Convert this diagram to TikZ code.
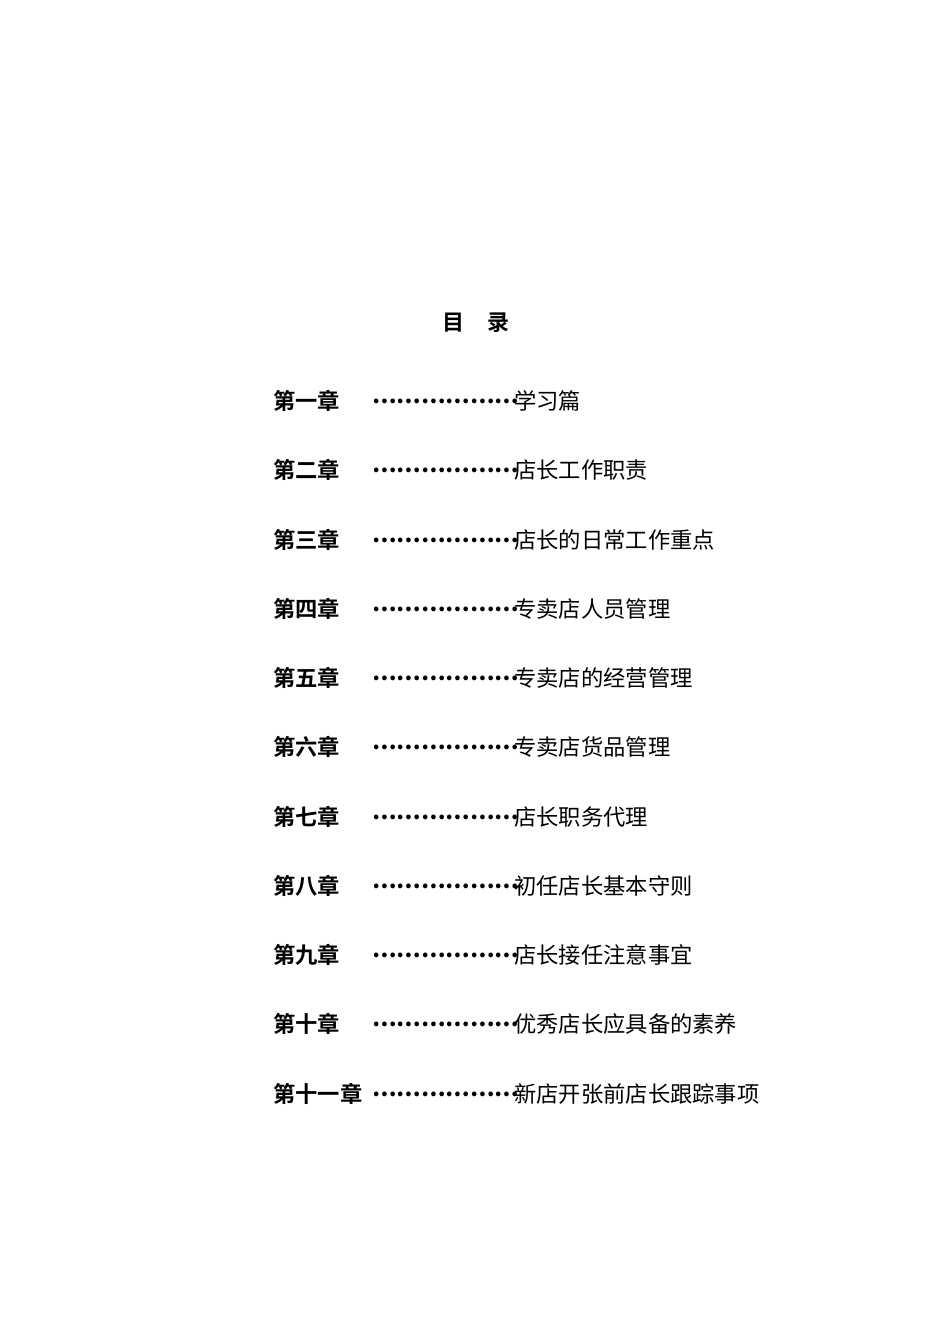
\documentclass[tikz,border=0pt]{standalone}
\usepackage{fontspec}
\newfontfamily\cjk{Noto Sans CJK SC}
\newfontfamily\cjkb{Noto Sans CJK SC Bold}
\begin{document}
\begin{tikzpicture}[x=1pt,y=-1pt,
  chap/.style={anchor=west,inner sep=0pt,font=\cjkb\fontsize{22.3}{22.3}\selectfont},
  lead/.style={anchor=west,inner sep=0pt,font=\cjk\fontsize{22.3}{22.3}\selectfont},
  dotsty/.style={anchor=west,inner sep=0pt,font=\cjk\bfseries\fontsize{21.8}{21.8}\selectfont},
  ttl/.style={anchor=center,inner sep=0pt,font=\cjkb\fontsize{22}{22}\selectfont}]
\useasboundingbox[fill=white] (0,0) rectangle (950,1344);
\node[ttl] (t1) at (453,323) {目};
\node[ttl] (t2) at (498,323) {录};
\foreach \i/\c/\t/\y in {1/第一章/学习篇/401, 2/第二章/店长工作职责/470, 3/第三章/店长的日常工作重点/540, 4/第四章/专卖店人员管理/609, 5/第五章/专卖店的经营管理/678, 6/第六章/专卖店货品管理/747, 7/第七章/店长职务代理/817, 8/第八章/初任店长基本守则/886, 9/第九章/店长接任注意事宜/955, 10/第十章/优秀店长应具备的素养/1024, 11/第十一章/新店开张前店长跟踪事项/1094}{
  \node[chap] (c\i) at (273,\y) {\c};
  \node[dotsty] (d\i) at (372,\y) {………………};
  \node[lead] (e\i) at (514,\y) {\t};
}
\end{tikzpicture}
\end{document}
